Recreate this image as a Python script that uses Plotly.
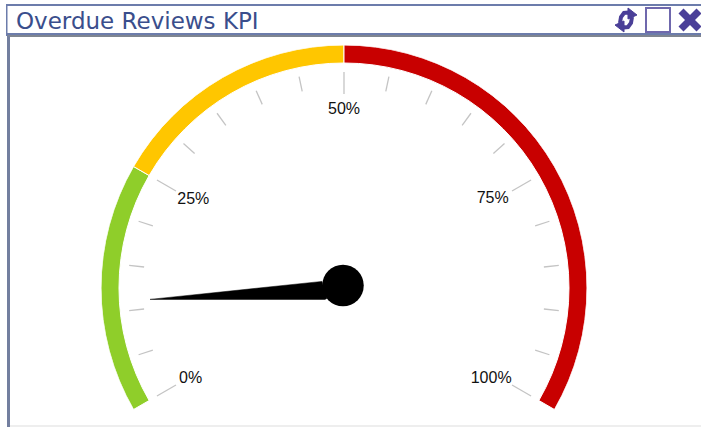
import math
import plotly.graph_objects as go

TITLE = "Overdue Reviews KPI"
band_starts = [0, 25, 50]
band_ends = [25, 50, 100]
band_colors = ["#8fce2a", "#ffc600", "#c80000"]
major_ticks = [0, 25, 50, 75, 100]
major_labels = ["0%", "25%", "50%", "75%", "100%"]
minor_ticks = [5, 10, 15, 20, 30, 35, 40, 45, 55, 60, 65, 70, 80, 85, 90, 95]
needle_value = 11.1

W, H = 701, 427
CX, CY, R = 344, 288, 243
SWEEP = 240
SECTOR_PAD = 2
label_radii = [178.2, 174.7, 178, 173.3, 172.8]
label_nudge = [-0.6, 0.4, 0, -0.9, 1.6]
def ang(p):
    return p * SWEEP / 100
def rr(px):
    return px / R
def X(px):
    return px / W
def Y(py):
    return 1 - py / H

fig = go.Figure()
fig.add_trace(go.Barpolar(
    theta=[ang((a + b) / 2) for a, b in zip(band_starts, band_ends)],
    width=[ang(b - a) for a, b in zip(band_starts, band_ends)],
    r=[rr(18)] * len(band_starts), base=[rr(225)] * len(band_starts),
    marker=dict(color=band_colors, line=dict(color="white", width=1)),
    hoverinfo="skip", showlegend=False))

def seg(vals, r0, r1):
    t, r = [], []
    for v in vals:
        t += [ang(v), ang(v), None]
        r += [rr(r0), rr(r1), None]
    return t, r

for vals, r0 in ((major_ticks, 194), (minor_ticks, 201)):
    t, r = seg(vals, r0, 216)
    fig.add_trace(go.Scatterpolar(theta=t, r=r, mode="lines", line=dict(color="#c4c4c4", width=1.3),
                                  hoverinfo="skip", showlegend=False))

fig.add_trace(go.Scatterpolar(
    theta=[ang(v) + d for v, d in zip(major_ticks, label_nudge)], r=[rr(a) for a in label_radii],
    text=major_labels, mode="text", textposition="middle center",
    textfont=dict(family="Liberation Sans, Arial", size=16, color="#111111"),
    hoverinfo="skip", showlegend=False))

n = ang(needle_value)
fig.add_trace(go.Scatterpolar(
    theta=[n, n + 20, n - 30.6, n], r=[rr(194.3), rr(23), rr(20.5), rr(194.3)],
    mode="lines", fill="toself", fillcolor="black", line=dict(color="black", width=0.5),
    hoverinfo="skip", showlegend=False))
fig.add_trace(go.Scatterpolar(
    theta=[98], r=[rr(2.7)], mode="markers", marker=dict(color="black", size=41.5),
    hoverinfo="skip", showlegend=False))

BORDER = "#6c7cab"
ICON = "#4a3f98"
def rect(x0, y0, x1, y1, color):
    return dict(type="rect", xref="paper", yref="paper", x0=X(x0), x1=X(x1), y0=Y(y0), y1=Y(y1),
                fillcolor=color, line=dict(width=0), layer="below")
def path(d, color, w):
    return dict(type="path", xref="paper", yref="paper", path=d, line=dict(color=color, width=w), layer="above")
def P(pts):
    return "M" + " L".join(f"{X(a):.5f},{Y(b):.5f}" for a, b in pts)

shapes = [
    rect(6, 4, 701, 6, BORDER),
    rect(6, 33, 701, 35, BORDER),
    rect(7, 35, 701, 37, "#7f8590"),
    rect(6, 4, 7.5, 36, BORDER),
    rect(7, 36, 10, 427, "#737f9f"),
    rect(10, 425, 701, 427, "#eeeeee"),
    # window icons
    dict(type="rect", xref="paper", yref="paper", x0=X(646), x1=X(670), y0=Y(32), y1=Y(8),
         line=dict(color="#6f68ad", width=2), fillcolor="white"),
    rect(646, 7, 670, 9.5, ICON),
    path(P([(681, 11), (699, 29)]), ICON, 7),
    path(P([(699, 11), (681, 29)]), ICON, 7),
    path(P([(631, 15), (628, 12.5), (624, 13), (621, 17), (620, 23)]), ICON, 4),
    path(P([(621, 25), (624, 27.5), (628, 27), (631, 23), (632, 17)]), ICON, 4),
    path(P([(628, 8), (637, 15), (628, 19)]) + "Z", ICON, 1),
    path(P([(624, 32), (615, 25), (624, 21)]) + "Z", ICON, 1),
]
for s in shapes[-2:]:
    s["fillcolor"] = ICON

low = 30 + SECTOR_PAD
fig.update_layout(
    width=W, height=H, margin=dict(l=0, r=0, t=0, b=0), autosize=False,
    paper_bgcolor="white", shapes=shapes,
    polar=dict(
        domain=dict(x=[(CX - R) / W, (CX + R) / W],
                    y=[Y(CY + R * math.sin(math.radians(low))), Y(CY - R)]),
        sector=[-low, 180 + low], bgcolor="rgba(0,0,0,0)",
        radialaxis=dict(range=[0, 1], visible=False),
        angularaxis=dict(rotation=210, direction="clockwise", visible=False, thetaunit="degrees")),
    annotations=[dict(text=TITLE, xref="paper", yref="paper", x=X(14), y=Y(21), xanchor="left", yanchor="middle",
                      showarrow=False, font=dict(family="DejaVu Sans", size=23, color="#3a4e8c"))])

fig.write_html("out.html", config=dict(displayModeBar=False),
               post_script="document.body.style.margin='0';document.body.style.overflow='hidden';")
